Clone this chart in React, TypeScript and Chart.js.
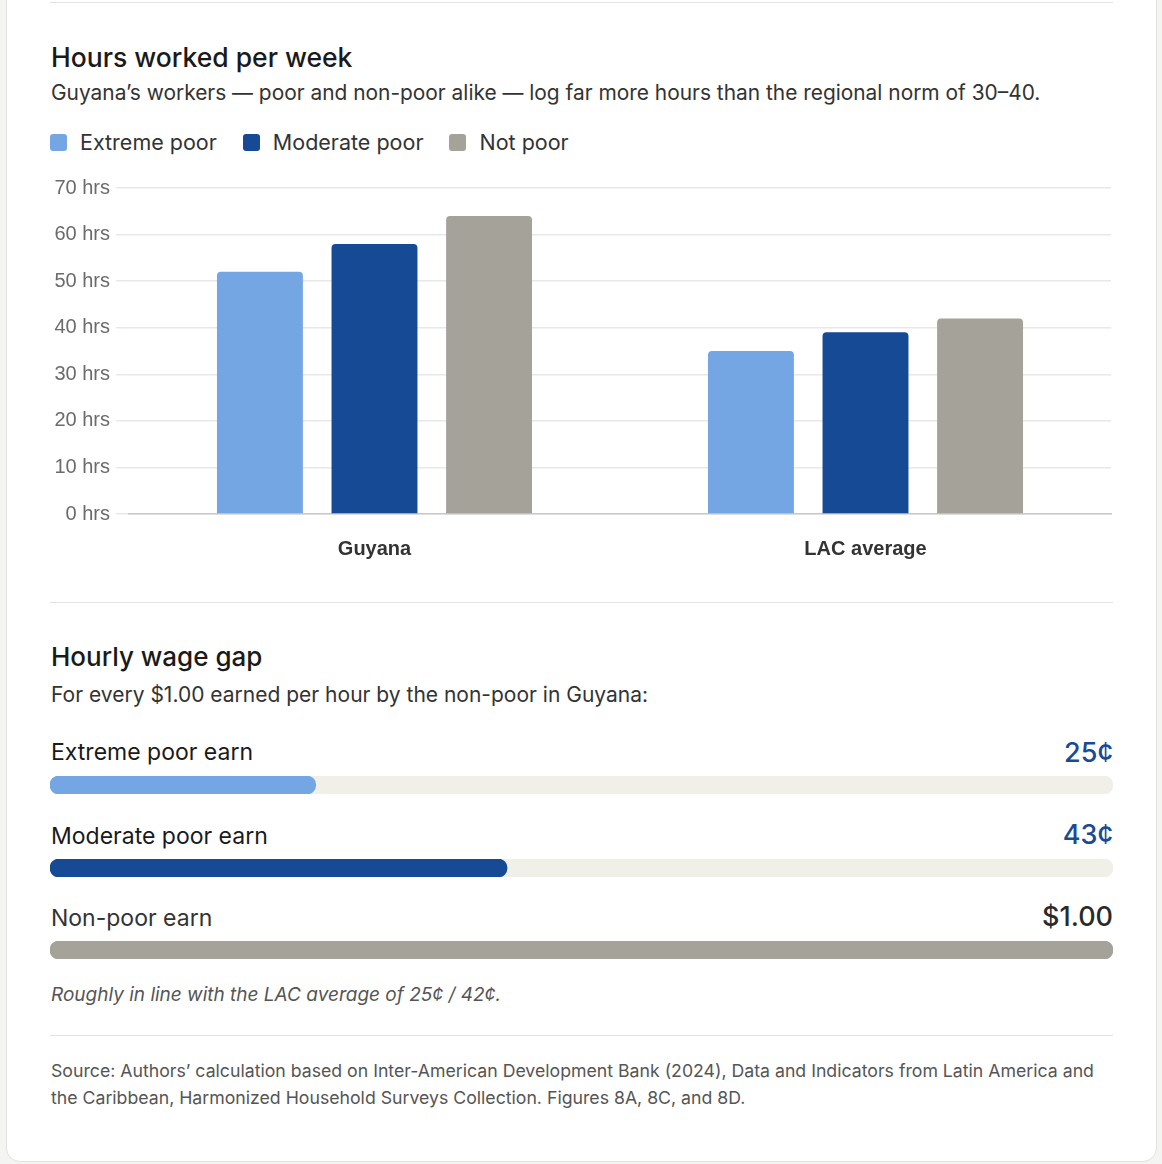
import React, { useEffect, useRef } from "react";
import { Chart, registerables } from "chart.js";

Chart.register(...registerables);

// ---------- Data ----------
const categories = ["Guyana", "LAC average"];
const seriesNames = ["Extreme poor", "Moderate poor", "Not poor"];
const extremePoorHours = [52, 35];
const moderatePoorHours = [58, 39];
const notPoorHours = [64, 42];
const hourTickMin = 0;
const hourTickMax = 70;
const hourTickStep = 10;
const hourTickSuffix = " hrs";

const wageLabels = ["Extreme poor earn", "Moderate poor earn", "Non-poor earn"];
const wageValues = [0.25, 0.43, 1.0];
const wageValueLabels = ["25¢", "43¢", "$1.00"];
const wageMax = 1.0;

// ---------- Styles ----------
const seriesColors = ["#75A6E4", "#174A94", "#A5A29A"];
const wageValueColors = ["#1A4A94", "#1A4A94", "#2A2A2A"];
const wageLabelColors = ["#1A1A1A", "#1A1A1A", "#333333"];
const trackColor = "#F0EFE8";
const FONT = "Inter, 'Noto Sans', sans-serif";

function Txt(props: {
  x: number;
  base: number;
  size: number;
  children: React.ReactNode;
  color?: string;
  weight?: number;
  italic?: boolean;
  right?: number;
  width?: number;
  lh?: number;
}) {
  const lh = props.lh ?? props.size * 1.21;
  const top = props.base - ((lh - props.size * 1.21) / 2 + props.size * 0.969);
  const style: React.CSSProperties = {
    position: "absolute",
    top,
    fontFamily: FONT,
    fontSize: props.size,
    lineHeight: `${lh}px`,
    color: props.color ?? "#1A1A1A",
    fontWeight: props.weight ?? 400,
    fontStyle: props.italic ? "italic" : "normal",
    whiteSpace: props.width ? "normal" : "nowrap",
  };
  if (props.right !== undefined) {
    style.right = 1162 - props.right;
  } else {
    style.left = props.x;
  }
  if (props.width) style.width = props.width;
  return <div style={style}>{props.children}</div>;
}

function HoursChart() {
  const ref = useRef<HTMLCanvasElement>(null);
  useEffect(() => {
    if (!ref.current) return;
    const series = [extremePoorHours, moderatePoorHours, notPoorHours];
    const chart = new Chart(ref.current, {
      type: "bar",
      data: {
        labels: categories,
        datasets: series.map((d, i) => ({
          label: seriesNames[i],
          data: d,
          backgroundColor: seriesColors[i],
          borderRadius: 4,
          borderSkipped: "start",
          categoryPercentage: 0.7,
          barPercentage: 0.75,
        })),
      },
      options: {
        responsive: false,
        animation: false,
        layout: { padding: { top: 17, right: 2, bottom: 0, left: 0 } },
        plugins: { legend: { display: false }, tooltip: { enabled: false } },
        scales: {
          x: {
            grid: { display: false, drawTicks: false },
            border: { display: true, color: "#C9C9C9", width: 1.5 },
            ticks: {
              color: "#333333",
              font: { size: 20, weight: "bold" },
              padding: 23,
            },
            afterFit: (s: any) => {
              s.height = 48;
            },
          },
          y: {
            min: hourTickMin,
            max: hourTickMax,
            ticks: {
              stepSize: hourTickStep,
              callback: (v: any) => `${v}${hourTickSuffix}`,
              color: "#6B6B6B",
              font: { size: 20 },
              padding: 6,
            },
            grid: { color: "#E8E8E8", tickLength: 13, lineWidth: 1.5 },
            border: { display: false },
            afterFit: (s: any) => {
              s.width = 79;
            },
          },
        },
      },
    });
    return () => chart.destroy();
  }, []);
  return (
    <canvas
      ref={ref}
      width={1063}
      height={392}
      style={{ position: "absolute", left: 50, top: 170, width: 1063, height: 392 }}
    />
  );
}

function WageBar(props: { index: number; top: number }) {
  const ref = useRef<HTMLCanvasElement>(null);
  const i = props.index;
  useEffect(() => {
    if (!ref.current) return;
    const chart = new Chart(ref.current, {
      type: "bar",
      data: {
        labels: [wageLabels[i]],
        datasets: [
          {
            label: "value",
            data: [wageValues[i]],
            backgroundColor: seriesColors[i],
            borderRadius: 9,
            borderSkipped: false,
            grouped: false,
            order: 0,
            barPercentage: 1,
            categoryPercentage: 1,
          },
          {
            label: "track",
            data: [wageMax],
            backgroundColor: trackColor,
            borderRadius: 9,
            borderSkipped: false,
            grouped: false,
            order: 1,
            barPercentage: 1,
            categoryPercentage: 1,
          },
        ],
      },
      options: {
        indexAxis: "y",
        responsive: false,
        animation: false,
        layout: { padding: 0 },
        plugins: { legend: { display: false }, tooltip: { enabled: false } },
        scales: {
          x: { display: false, min: 0, max: wageMax },
          y: { display: false },
        },
      },
    } as any);
    return () => chart.destroy();
  }, [i]);
  return (
    <canvas
      ref={ref}
      width={1063}
      height={18}
      style={{ position: "absolute", left: 50, top: props.top, width: 1063, height: 18 }}
    />
  );
}

export default function App() {
  const labelBases = [761.7, 845, 927.3];
  const valueBases = [762.7, 845, 926.7];
  const barTops = [776, 859, 941];
  return (
    <div
      style={{
        position: "absolute",
        left: 0,
        top: 0,
        width: 1162,
        height: 1164,
        background: "#F4F4F2",
        overflow: "hidden",
      }}
    >
      <div
        style={{
          position: "absolute",
          left: 6,
          top: -40,
          width: 1151,
          height: 1202,
          boxSizing: "border-box",
          background: "#FFFFFF",
          border: "1px solid #E2E2DF",
          borderRadius: 14,
        }}
      />
      {/* dividers */}
      <div style={{ position: "absolute", left: 50, top: 2, width: 1063, height: 1, background: "#E2E2E2" }} />
      <div style={{ position: "absolute", left: 50, top: 602, width: 1063, height: 1, background: "#E2E2E2" }} />
      <div style={{ position: "absolute", left: 50, top: 1035, width: 1063, height: 1, background: "#E2E2E2" }} />

      {/* Section 1 */}
      <Txt x={51} base={66.7} size={26.5} weight={500}>
        Hours worked per week
      </Txt>
      <Txt x={51} base={100.7} size={20.9} color="#333333">
        Guyana’s workers — poor and non-poor alike — log far more hours than the regional norm of 30–40.
      </Txt>
      <div
        style={{
          position: "absolute",
          left: 50,
          top: 130,
          height: 24,
          display: "flex",
          alignItems: "center",
          fontFamily: FONT,
          fontSize: 21.5,
          color: "#333333",
        }}
      >
        {seriesNames.map((n, i) => (
          <div key={n} style={{ display: "flex", alignItems: "center", marginRight: 26 }}>
            <div
              style={{
                width: 17,
                height: 17,
                borderRadius: 3,
                background: seriesColors[i],
                marginRight: 13,
              }}
            />
            <span>{n}</span>
          </div>
        ))}
      </div>
      <HoursChart />

      {/* Section 2 */}
      <Txt x={51} base={666} size={26} weight={500}>
        Hourly wage gap
      </Txt>
      <Txt x={51} base={702.3} size={21} color="#333333">
        For every $1.00 earned per hour by the non-poor in Guyana:
      </Txt>
      {wageLabels.map((l, i) => (
        <React.Fragment key={l}>
          <Txt x={51} base={labelBases[i]} size={23} color={wageLabelColors[i]}>
            {l}
          </Txt>
          <Txt x={0} right={1113} base={valueBases[i]} size={27} weight={500} color={wageValueColors[i]}>
            {wageValueLabels[i]}
          </Txt>
          <WageBar index={i} top={barTops[i]} />
        </React.Fragment>
      ))}
      <Txt x={51} base={1001.7} size={19} italic color="#555555">
        Roughly in line with the LAC average of 25¢ / 42¢.
      </Txt>
      <Txt x={51} base={1076.7} size={17.7} lh={27} width={1063} color="#555555">
        Source: Authors’ calculation based on Inter-American Development Bank (2024), Data and Indicators from Latin America and the Caribbean, Harmonized Household Surveys Collection. Figures 8A, 8C, and 8D.
      </Txt>
    </div>
  );
}
